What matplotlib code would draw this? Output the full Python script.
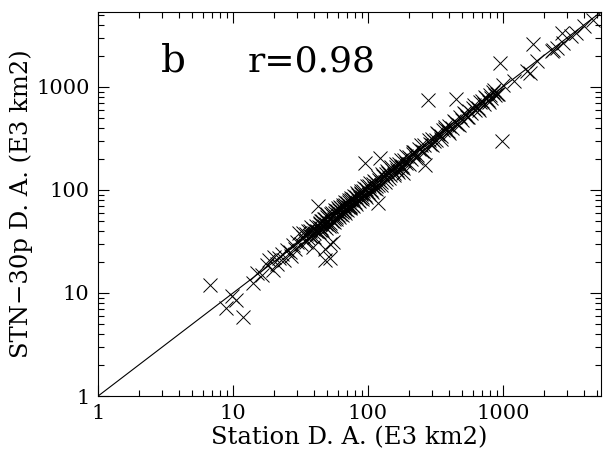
import matplotlib
matplotlib.use("Agg")
import matplotlib.pyplot as plt
from matplotlib.ticker import LogLocator, FixedLocator, NullFormatter, FixedFormatter

plt.rcParams['font.family'] = ['DejaVu Serif']

station_da = [6.7, 8.9, 9.8, 10.5, 11.8, 14, 15, 16.5, 17.8, 18.5, 19.8, 20, 21, 22, 23, 24, 25, 26.5, 27, 28,
              29, 30, 31, 32, 33, 34, 35, 36, 37, 38, 39, 39, 40, 41, 42, 42.6, 43, 44, 44, 45,
              46, 47, 48, 48, 48, 49, 50, 50, 51, 52, 52, 52, 53, 54, 55, 55, 56, 57, 58, 59,
              60, 61, 62, 63, 64, 65, 66, 67, 68, 70, 71, 72, 74, 75, 76, 78, 80, 82, 84, 85,
              87, 89, 90, 92, 95, 95, 97, 100, 102, 105, 108, 110, 113, 118, 120, 122, 118, 125, 130, 135,
              140, 145, 150, 155, 160, 165, 170, 180, 182, 185, 190, 200, 210, 220, 230, 240, 250, 260, 265, 277,
              290, 300, 310, 330, 350, 370, 390, 400, 420, 450, 460, 480, 500, 520, 540, 560, 580, 600, 650, 700,
              720, 750, 780, 800, 820, 850, 900, 950, 985, 1000, 1200, 1500, 1580, 1670, 1800, 2300, 2340, 2500, 2750, 2800,
              3200, 3500, 4000, 4650,
              36, 44, 58, 66, 73, 88, 115, 135, 175, 215, 320, 360, 440, 620, 680, 870,
              33, 35, 37, 38, 40, 41, 43, 45, 46, 47, 49, 50, 52, 53, 54, 56, 57, 58, 60, 61,
              62, 64, 65, 67, 68, 70, 72, 73, 75, 77, 79, 81, 83, 86, 88, 91, 93, 96, 98, 101,
              104, 107, 111, 115, 119, 124, 128, 133, 138, 143, 149, 155, 162, 168, 176, 183, 192, 200, 215, 228,
              245, 262, 282, 300, 325, 345, 375, 395, 430, 470, 510, 555, 610, 660, 730, 790, 860, 920]
stn30p_da = [12.0, 7.1, 9.4, 8.6, 5.9, 12.5, 15.5, 14.8, 18.7, 21, 16.7, 22.5, 19, 22, 24, 21, 26, 25, 23, 29,
             27, 31, 38, 30, 35, 32, 37, 34, 40, 36, 28, 42, 38, 45, 40, 70, 44, 47, 41, 43,
             50, 45, 21, 27, 52, 47, 55, 49, 45, 22, 30, 53, 58, 50, 31, 56, 52, 60, 55, 62,
             57, 64, 59, 66, 61, 69, 63, 71, 65, 74, 68, 76, 70, 80, 72, 82, 77, 86, 80, 90,
             83, 93, 86, 97, 183, 90, 102, 95, 108, 100, 114, 104, 118, 112, 126, 205, 75, 119, 137, 128,
             147, 138, 157, 147, 168, 157, 178, 171, 145, 194, 181, 210, 200, 231, 218, 252, 238, 272, 175, 750,
             276, 312, 295, 345, 333, 388, 372, 420, 400, 760, 440, 505, 478, 545, 515, 585, 553, 628, 620, 735,
             686, 785, 745, 840, 782, 890, 860, 1700, 300, 1040, 1150, 1430, 1370, 2600, 1760, 2200, 2250, 2400, 3300, 2650,
             3100, 3300, 3900, 4400,
             40, 48, 62, 70, 69, 92, 110, 142, 166, 225, 305, 380, 460, 590, 710, 830,
             38, 31, 36, 44, 35, 40, 39, 50, 41, 52, 43, 58, 48, 45, 60, 49, 64, 52, 66, 54,
             68, 57, 72, 60, 76, 64, 80, 66, 84, 70, 88, 73, 93, 78, 98, 82, 105, 86, 110, 91,
             116, 96, 122, 103, 132, 111, 142, 120, 154, 129, 165, 139, 180, 150, 195, 163, 214, 178, 235, 205,
             270, 235, 305, 270, 355, 315, 405, 360, 470, 430, 560, 505, 665, 600, 790, 720, 930, 850]

axis_min, axis_max = 1, 5300
tick_values = [1, 10, 100, 1000]
tick_labels = ['1', '10', '100', '1000']

fig = plt.figure(figsize=(6.05, 4.66), dpi=100)
ax = fig.add_axes([0.162, 0.150, 0.831, 0.824])

ax.plot([axis_min, axis_max], [axis_min, axis_max], color='k', lw=0.8)
ax.plot(station_da, stn30p_da, ls='none', marker='x', ms=10, mew=0.7, color='k')

ax.set_xscale('log')
ax.set_yscale('log')
ax.set_xlim(axis_min, axis_max)
ax.set_ylim(axis_min, axis_max)

for axis in (ax.xaxis, ax.yaxis):
    axis.set_major_locator(FixedLocator(tick_values))
    axis.set_major_formatter(FixedFormatter(tick_labels))
    axis.set_minor_locator(LogLocator(base=10, subs=range(2, 10)))
    axis.set_minor_formatter(NullFormatter())

ax.tick_params(which='both', direction='in', top=True, right=True, labelsize=15, width=0.8)
ax.tick_params(which='major', length=8, pad=6)
ax.tick_params(which='minor', length=4)
for s in ax.spines.values():
    s.set_linewidth(0.8)

ax.set_xlabel('Station D. A. (E3 km2)', fontsize=17.5, labelpad=2)
ax.set_ylabel('STN\u221230p D. A. (E3 km2)', fontsize=17.5, labelpad=2)

ax.text(0.125, 0.872, 'b', transform=ax.transAxes, fontsize=28, va='center', ha='left')
ax.text(0.298, 0.872, 'r=0.98', transform=ax.transAxes, fontsize=26, va='center', ha='left')

fig.savefig('out.png', dpi=100)
